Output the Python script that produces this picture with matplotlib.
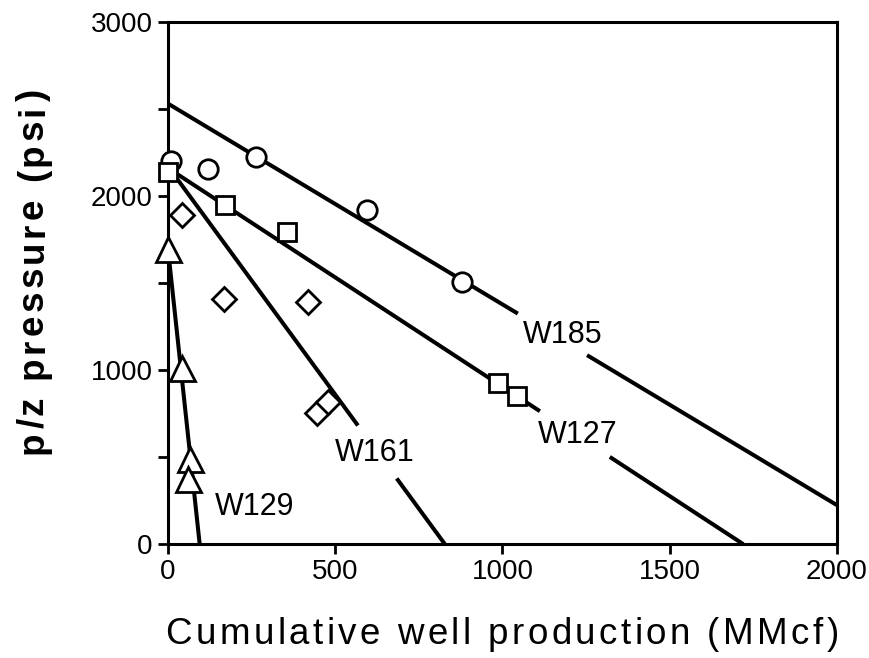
import matplotlib
matplotlib.use('Agg')
import matplotlib.pyplot as plt
from matplotlib import font_manager
from matplotlib.transforms import IdentityTransform

plt.rcParams['font.family'] = ['Liberation Sans', 'DejaVu Sans']

# 数据点 (MMcf, psi)
w185_x = [8, 120, 263, 595, 879]
w185_y = [2200, 2155, 2225, 1920, 1505]
w127_x = [0, 170, 356, 987, 1043]
w127_y = [2135, 1950, 1790, 925, 850]
w161_x = [42, 167, 419, 445, 478]
w161_y = [1890, 1410, 1390, 755, 815]
w129_x = [0, 42, 65, 60]
w129_y = [1695, 1010, 490, 375]

# 拟合直线: (起点, 终点, 标注断开区间)
lines = {
    'W185': ((0, 2530), (2000, 224), (1046, 1253)),
    'W127': ((0, 2160), (1720, 0), (1112, 1321)),
    'W161': ((0, 2170), (828, 0), (568, 684)),
    'W129': ((0, 1700), (95, 0), None),
}
label_pos = {
    'W185': (1181, 1200),
    'W127': (1226, 626),
    'W161': (619, 523),
    'W129': (260, 213),
}

fig = plt.figure(figsize=(8.7, 6.58), dpi=100)
ax = fig.add_axes([0.193, 0.173, 0.769, 0.794])


# 字间距加宽的文字 (像素坐标, 居中, 给定总宽)
def spaced_text(s, x, y, size, width, weight='normal', rotation=0):
    fp = font_manager.FontProperties(family='Liberation Sans', size=size, weight=weight)
    font = font_manager.get_font(font_manager.findfont(fp))
    font.set_size(size, fig.dpi)
    adv = [font.load_char(ord(c)).linearHoriAdvance / 65536 for c in s]
    track = (width - sum(adv)) / (len(s) - 1)
    pos = -width / 2
    for c, a in zip(s, adv):
        px, py = (x + pos, y) if rotation == 0 else (x, y + pos)
        fig.text(px, py, c, fontproperties=fp, transform=IdentityTransform(),
                 ha='left', va='baseline', rotation=rotation, rotation_mode='anchor')
        pos += a + track


for name, (p0, p1, gap) in lines.items():
    slope = (p1[1] - p0[1]) / (p1[0] - p0[0])
    f = lambda x: p0[1] + slope * (x - p0[0])
    if gap is None:
        segs = [(p0[0], p1[0])]
    else:
        segs = [(p0[0], gap[0]), (gap[1], p1[0])]
    for a, b in segs:
        ax.plot([a, b], [f(a), f(b)], color='black', lw=2.9, solid_capstyle='butt', zorder=2)
    ax.text(label_pos[name][0], label_pos[name][1], name, fontsize=22,
            ha='center', va='center', color='black')

mk = dict(linestyle='none', markerfacecolor='white', markeredgecolor='black',
          markeredgewidth=2.0, zorder=3, clip_on=False)
ax.plot(w185_x, w185_y, marker='o', markersize=14, **mk)
ax.plot(w127_x, w127_y, marker='s', markersize=13, **mk)
ax.plot(w161_x, w161_y, marker='D', markersize=12.5, **mk)
ax.plot(w129_x, w129_y, marker='^', markersize=18, **mk)

ax.set_xlim(0, 2000)
ax.set_ylim(0, 3000)
ax.set_xticks([0, 500, 1000, 1500, 2000])
ax.set_yticks([0, 1000, 2000, 3000])
ax.set_yticks([500, 1500, 2500], minor=True)
ax.tick_params(axis='both', which='both', direction='out', width=2, length=7,
               labelsize=20, pad=4)
for s in ax.spines.values():
    s.set_linewidth(2.2)

# 坐标轴标题
spaced_text('Cumulative well production (MMcf)', 502, 14, 26.5, 673)
spaced_text('p/z pressure (psi)', 43, 386, 26.5, 365, weight='bold', rotation=90)

fig.savefig('out.png', dpi=100)
